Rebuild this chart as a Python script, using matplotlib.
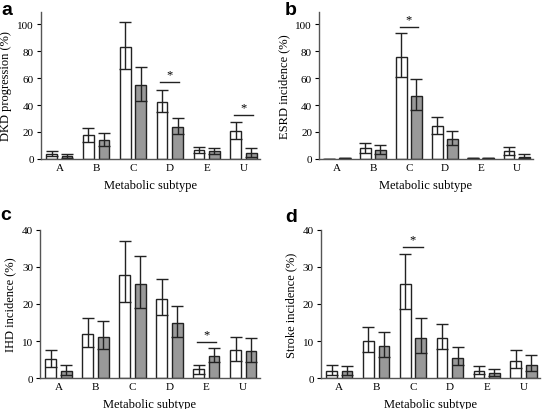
import numpy as np
import matplotlib.pyplot as plt

plt.rcParams['font.family'] = ['Liberation Serif', 'DejaVu Serif']

subtypes = ['A', 'B', 'C', 'D', 'E', 'U']

# panel a: DKD progression
a_white = [4, 17.5, 83, 42.5, 6.5, 21]
a_white_lo = [2.5, 12.5, 67, 35, 4.5, 15]
a_white_hi = [6, 23, 102, 51, 9, 27.5]
a_gray = [2.5, 14, 55, 24, 5.5, 4.5]
a_gray_lo = [1, 9.5, 43, 18.5, 3.5, 1.5]
a_gray_hi = [4, 19.5, 68.5, 30.5, 8, 8]

# panel b: ESRD incidence
b_white = [0, 8, 76, 24.5, 0.5, 5.5]
b_white_lo = [0, 4.5, 61, 18.5, 0.5, 3]
b_white_hi = [0, 11.5, 93.5, 31, 0.5, 8.5]
b_gray = [0.5, 6.5, 46.5, 15, 0.5, 1.5]
b_gray_lo = [0.5, 3.5, 36, 10.5, 0.5, 0.5]
b_gray_hi = [0.5, 10.5, 59, 20.5, 0.5, 3.5]

# panel c: IHD incidence
c_white = [5.2, 12, 27.9, 21.4, 2.3, 7.5]
c_white_lo = [3, 8.5, 20.6, 17, 1.2, 4.7]
c_white_hi = [7.6, 16.2, 37, 26.8, 3.5, 11.1]
c_gray = [2, 11.2, 25.3, 14.9, 6, 7.2]
c_gray_lo = [0.8, 7.8, 19, 11.2, 4.3, 4.3]
c_gray_hi = [3.4, 15.5, 33, 19.5, 8.1, 10.8]

# panel d: stroke incidence
d_white = [1.9, 10, 25.3, 10.9, 2, 4.7]
d_white_lo = [0.9, 7, 18.7, 7.8, 1, 2.6]
d_white_hi = [3.4, 13.9, 33.5, 14.6, 3.2, 7.7]
d_gray = [1.9, 8.7, 10.8, 5.5, 1.3, 3.5]
d_gray_lo = [0.9, 5.8, 6.8, 3.5, 0.6, 1.8]
d_gray_hi = [3.2, 12.3, 16.1, 8.5, 2.4, 6.1]

# significance markers: (category index, height)
a_sig = [(3, 57), (5, 32.7)]
b_sig = [(2, 98)]
c_sig = [(4, 9.8)]
d_sig = [(2, 35.5)]


def panel(ax, ylabel, ymax, yticks, white, wlo, whi, gray, glo, ghi, sig):
    x = np.arange(len(subtypes))
    w = 0.29
    off = 0.21
    white = np.array(white)
    gray = np.array(gray)
    werr = [white - np.array(wlo), np.array(whi) - white]
    gerr = [gray - np.array(glo), np.array(ghi) - gray]
    ax.bar(x - off, white, w, color='white', edgecolor='#222222', linewidth=1.0)
    ax.bar(x + off, gray, w, color='#999999', edgecolor='#222222', linewidth=1.0)
    ax.errorbar(x - off, white, yerr=werr, fmt='none', ecolor='#222222',
                elinewidth=1.0, capsize=4, capthick=1.0)
    ax.errorbar(x + off, gray, yerr=gerr, fmt='none', ecolor='#222222',
                elinewidth=1.0, capsize=4, capthick=1.0)
    for i, h in sig:
        ax.plot([i - off - 0.05, i + off + 0.05], [h, h], color='#222222', lw=1.0)
        ax.text(i, h + ymax * 0.01, '*', ha='center', va='bottom', fontsize=9)
    ax.set_xlim(-0.5, 5.45)
    ax.set_ylim(0, ymax)
    ax.set_yticks(yticks)
    ax.set_xticks(x)
    ax.set_xticklabels(subtypes)
    ax.tick_params(axis='x', length=0, labelsize=8, pad=3)
    ax.tick_params(axis='y', length=3, width=0.8, labelsize=8, pad=2)
    for s in ['top', 'right']:
        ax.spines[s].set_visible(False)
    for s in ['left', 'bottom']:
        ax.spines[s].set_color('#555555')
        ax.spines[s].set_linewidth(1.0)
    ax.set_xlabel('Metabolic subtype', fontsize=9, labelpad=5)
    ax.set_ylabel(ylabel, fontsize=9, labelpad=4)


fig = plt.figure(figsize=(5.43, 4.10), dpi=100)
ax_a = fig.add_axes([0.0755, 0.61, 0.4035, 0.358])
ax_b = fig.add_axes([0.5875, 0.61, 0.394, 0.358])
ax_c = fig.add_axes([0.0737, 0.0756, 0.405, 0.361])
ax_d = fig.add_axes([0.591, 0.0756, 0.4035, 0.361])

panel(ax_a, 'DKD progression (%)', 109, [0, 20, 40, 60, 80, 100],
      a_white, a_white_lo, a_white_hi, a_gray, a_gray_lo, a_gray_hi, a_sig)
panel(ax_b, 'ESRD incidence (%)', 109, [0, 20, 40, 60, 80, 100],
      b_white, b_white_lo, b_white_hi, b_gray, b_gray_lo, b_gray_hi, b_sig)
panel(ax_c, 'IHD incidence (%)', 40, [0, 10, 20, 30, 40],
      c_white, c_white_lo, c_white_hi, c_gray, c_gray_lo, c_gray_hi, c_sig)
panel(ax_d, 'Stroke incidence (%)', 40, [0, 10, 20, 30, 40],
      d_white, d_white_lo, d_white_hi, d_gray, d_gray_lo, d_gray_hi, d_sig)

# panel letters
for letter, px, py in [('a', 1, 15), ('b', 285, 15), ('c', 0, 220), ('d', 285, 222)]:
    fig.text(px / 543, 1 - py / 410, letter, fontsize=14, fontweight='bold',
             family='Liberation Sans', ha='left', va='baseline')

fig.savefig('out.png', dpi=100)
